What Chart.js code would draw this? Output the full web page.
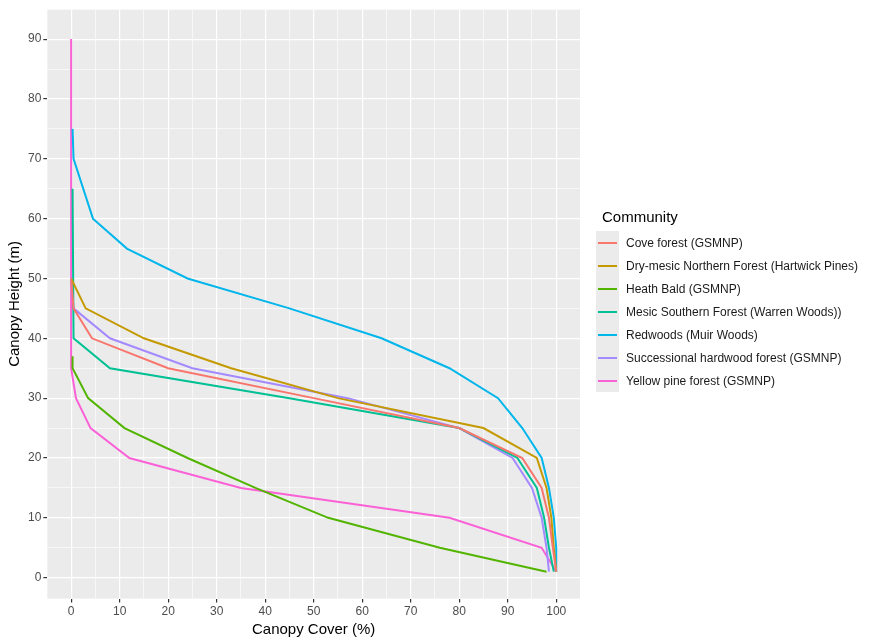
<!DOCTYPE html>
<html>
<head>
<meta charset="utf-8">
<script src="https://cdn.jsdelivr.net/npm/chart.js@4"></script>
<style>
  body { margin: 0; background: #fff; font-family: Arial, "Liberation Sans", sans-serif; }
  #wrap { width: 886px; height: 641px; position: relative; }
  #legend { position: absolute; left: 596px; top: 208px; }
  #legend .title { font-size: 15px; color: #000; margin: 0 0 6px 6px; }
  #legend .item { display: flex; align-items: center; height: 23px; font-size: 12px; color: #1a1a1a; }
  #legend .key { width: 23px; height: 23px; background: #EBEBEB; position: relative; margin-right: 7px; }
  #legend .key i { position: absolute; left: 2px; right: 2px; top: 10.5px; height: 2px; }
</style>
</head>
<body>
<div id="wrap"><canvas id="chart" width="886" height="641"></canvas><div id="legend"></div></div>
<script>
const communities = [
  'Cove forest (GSMNP)',
  'Dry-mesic Northern Forest (Hartwick Pines)',
  'Heath Bald (GSMNP)',
  'Mesic Southern Forest (Warren Woods))',
  'Redwoods (Muir Woods)',
  'Successional hardwood forest (GSMNP)',
  'Yellow pine forest (GSMNP)'
];
const colors = ['#F8766D', '#C49A00', '#53B400', '#00C094', '#00B6EB', '#A58AFF', '#FB61D7'];
const tickValues = [0, 5, 10, 15, 20, 25, 30, 35, 40, 45, 50, 55, 60, 65, 70, 75, 80, 85, 90, 95, 100];

// canopy height (m) for each row, and cover (%) per community
const coveHeight = [50, 45, 40, 35, 30, 25, 20, 15, 10, 5, 1];
const coveCover  = [0, 0.5, 4.3, 20, 50, 80, 93, 97, 98.5, 99.3, 100];
const dryHeight  = [50, 45, 40, 35, 30, 25, 20, 15, 10, 5, 1];
const dryCover   = [0, 3, 15, 33, 55, 85, 96, 98, 99, 99.5, 100];
const heathHeight = [37, 35, 30, 25, 20, 15, 10, 5, 1];
const heathCover  = [0.3, 0.3, 3.5, 11, 24, 38, 53, 76, 98];
const mesicHeight = [65, 40, 35, 30, 25, 20, 15, 10, 5, 1];
const mesicCover  = [0.3, 0.5, 8, 45, 80, 92, 96, 97.5, 98.5, 99.5];
const redHeight  = [75, 70, 60, 55, 50, 45, 40, 35, 30, 25, 20, 15, 10, 5, 1];
const redCover   = [0.3, 0.5, 4.5, 11.5, 24, 45, 64, 78, 88, 93, 97, 98.5, 99.5, 100, 100];
const succHeight = [50, 45, 40, 35, 30, 25, 20, 15, 10, 5, 1];
const succCover  = [0, 0.5, 8, 25, 57, 80, 91, 95, 97, 98, 98.5];
const pineHeight = [90, 35, 30, 25, 20, 15, 10, 5, 1];
const pineCover  = [0, 0, 1, 4, 12, 35, 78, 97, 100];

const heights = [coveHeight, dryHeight, heathHeight, mesicHeight, redHeight, succHeight, pineHeight];
const covers  = [coveCover, dryCover, heathCover, mesicCover, redCover, succCover, pineCover];

const datasets = communities.map((name, i) => ({
  label: name,
  data: covers[i].map((c, j) => ({ x: c, y: heights[i][j] })),
  borderColor: colors[i],
  backgroundColor: colors[i],
  borderWidth: 2,
  showLine: true,
  pointRadius: 0,
  tension: 0
}));

// legend as html so the long labels get their full width
const legend = document.getElementById('legend');
legend.innerHTML = '<div class="title">Community</div>' + communities.map((name, i) =>
  `<div class="item"><span class="key"><i style="background:${colors[i]}"></i></span>${name}</div>`).join('');

const panelBg = {
  id: 'panelBg',
  beforeDraw(chart) {
    const { ctx, chartArea: a } = chart;
    ctx.save();
    ctx.fillStyle = '#EBEBEB';
    ctx.fillRect(a.left, a.top, a.right - a.left, a.bottom - a.top);
    ctx.restore();
  }
};

function fixedTicks(axis) {
  axis.ticks = tickValues.filter(v => v >= axis.min && v <= axis.max).map(v => ({ value: v }));
}
const gridWidth = ctx => (ctx.tick && ctx.tick.value % 10 === 0) ? 1.2 : 0.6;
const label10 = v => (v % 10 === 0 ? v : '');
const font = { size: 12, family: 'Arial, "Liberation Sans", sans-serif' };

new Chart(document.getElementById('chart'), {
  type: 'scatter',
  data: { datasets },
  plugins: [panelBg],
  options: {
    responsive: false,
    animation: false,
    layout: { padding: { left: 2, top: 0, right: 306, bottom: 2 } },
    plugins: { legend: { display: false }, tooltip: { enabled: false } },
    scales: {
      x: {
        type: 'linear',
        min: -4.9, max: 104.9,
        afterBuildTicks: fixedTicks,
        ticks: { autoSkip: false, maxRotation: 0, color: '#4d4d4d', font, callback: label10, padding: 2 },
        grid: { color: '#fff', lineWidth: gridWidth, tickLength: 4, tickColor: ctx => ctx.tick.value % 10 === 0 ? '#333' : 'rgba(0,0,0,0)' },
        border: { display: false },
        title: { display: true, text: 'Canopy Cover (%)', color: '#000', font: { size: 15, family: font.family }, padding: { top: 0, bottom: 0 } }
      },
      y: {
        type: 'linear',
        min: -3.5, max: 95,
        afterBuildTicks: fixedTicks,
        ticks: { autoSkip: false, color: '#4d4d4d', font, callback: label10, padding: 2 },
        grid: { color: '#fff', lineWidth: gridWidth, tickLength: 4, tickColor: ctx => ctx.tick.value % 10 === 0 ? '#333' : 'rgba(0,0,0,0)' },
        border: { display: false },
        title: { display: true, text: 'Canopy Height (m)', color: '#000', font: { size: 15, family: font.family }, padding: { bottom: 2 } }
      }
    }
  }
});
</script>
</body>
</html>
